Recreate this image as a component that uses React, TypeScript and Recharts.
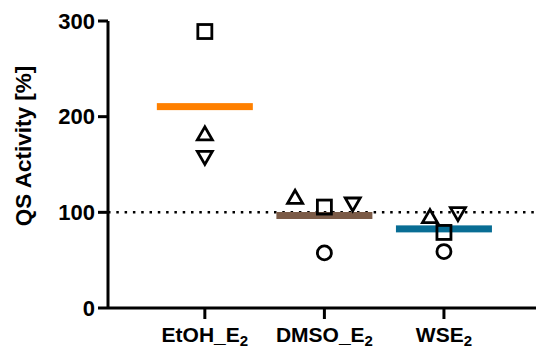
import React from 'react';
import { ScatterChart, Scatter, XAxis, YAxis, ReferenceLine } from 'recharts';

// group names, split into base text + subscript
const categories = ['EtOH_E', 'DMSO_E', 'WSE'];
const subscripts = ['2', '2', '2'];
const groupPos = [1, 2, 3];

// replicate values per marker type (% QS activity)
const squareVals = [289, 105.5, 79];
const triUpVals = [182, 115.7, 95.5];
const triDownVals = [157.5, 108.7, 98.6];
const circleVals = [null, 57.6, 59];
const meanVals = [210.5, 96.7, 82.7];

// horizontal jitter of replicates inside a group (category units)
const triUpJitter = [0, -0.245, -0.117];
const triDownJitter = [0, 0.237, 0.117];

const meanColors = ['#FF8000', '#7B5B47', '#086D94'];
const yTicks = [0, 100, 200, 300];

const toPoints = (vals: (number | null)[], jitter?: number[]) =>
  vals
    .map((v, i) => ({ x: groupPos[i] + (jitter ? jitter[i] : 0), y: v, i }))
    .filter((p) => p.y !== null);

const squareData = toPoints(squareVals);
const triUpData = toPoints(triUpVals, triUpJitter);
const triDownData = toPoints(triDownVals, triDownJitter);
const circleData = toPoints(circleVals);
const meanData = toPoints(meanVals);

const FONT = '"Liberation Sans", Arial, Helvetica, sans-serif';
const SW = 2.8;

const Square = (p: any) => (
  <rect x={p.cx - 7} y={p.cy - 7} width={14} height={14} fill="none" stroke="#000" strokeWidth={SW} />
);
const TriUp = (p: any) => (
  <polygon
    points={`${p.cx},${p.cy - 7} ${p.cx - 7.5},${p.cy + 6} ${p.cx + 7.5},${p.cy + 6}`}
    fill="none"
    stroke="#000"
    strokeWidth={SW}
  />
);
const TriDown = (p: any) => (
  <polygon
    points={`${p.cx},${p.cy + 7} ${p.cx - 7.5},${p.cy - 6} ${p.cx + 7.5},${p.cy - 6}`}
    fill="none"
    stroke="#000"
    strokeWidth={SW}
  />
);
const Circ = (p: any) => <circle cx={p.cx} cy={p.cy} r={7} fill="none" stroke="#000" strokeWidth={SW} />;
const MeanBar = (p: any) => (
  <rect x={p.cx - 48} y={p.cy - 3.5} width={96} height={7} fill={meanColors[p.payload.i]} />
);

const XTick = (props: any) => {
  const { x, y, payload } = props;
  const idx = groupPos.indexOf(payload.value);
  if (idx < 0) return null;
  return (
    <text x={x} y={y} dy="0.71em" textAnchor="middle" fontFamily={FONT} fontWeight="bold" fontSize={21} fill="#000">
      {categories[idx]}
      <tspan fontSize={15} dy={4}>
        {subscripts[idx]}
      </tspan>
    </text>
  );
};

export default function App() {
  return (
    <div style={{ position: 'relative', width: 536, height: 351 }}>
      <style>{`body{margin:0}`}</style>
      <ScatterChart width={536} height={351} margin={{ top: 21, right: 0, bottom: 0, left: 0 }}>
        <XAxis
          type="number"
          dataKey="x"
          domain={[0.19, 3.77]}
          allowDataOverflow
          ticks={groupPos}
          tick={<XTick />}
          tickSize={11}
          tickMargin={8}
          height={43}
          axisLine={{ stroke: '#000', strokeWidth: 3 }}
          tickLine={{ stroke: '#000', strokeWidth: 3 }}
        />
        <YAxis
          type="number"
          dataKey="y"
          domain={[0, 300]}
          ticks={yTicks}
          width={108}
          tickSize={10}
          tickMargin={3}
          axisLine={{ stroke: '#000', strokeWidth: 3 }}
          tickLine={{ stroke: '#000', strokeWidth: 3 }}
          tick={{ fill: '#000', fontFamily: FONT, fontWeight: 'bold', fontSize: 22 }}
        />
        <ReferenceLine y={100} stroke="#000" strokeWidth={2.5} strokeDasharray="2.5 5.8" />
        <Scatter data={meanData} shape={MeanBar} isAnimationActive={false} />
        <Scatter data={squareData} shape={Square} isAnimationActive={false} />
        <Scatter data={triUpData} shape={TriUp} isAnimationActive={false} />
        <Scatter data={triDownData} shape={TriDown} isAnimationActive={false} />
        <Scatter data={circleData} shape={Circ} isAnimationActive={false} />
      </ScatterChart>
      <svg width={60} height={351} style={{ position: 'absolute', left: 0, top: 0, pointerEvents: 'none' }}>
        <text
          x={31}
          y={146}
          transform="rotate(-90, 31, 146)"
          textAnchor="middle"
          fontFamily={FONT}
          fontWeight="bold"
          fontSize={22.5}
          fill="#000"
        >
          QS Activity [%]
        </text>
      </svg>
    </div>
  );
}
